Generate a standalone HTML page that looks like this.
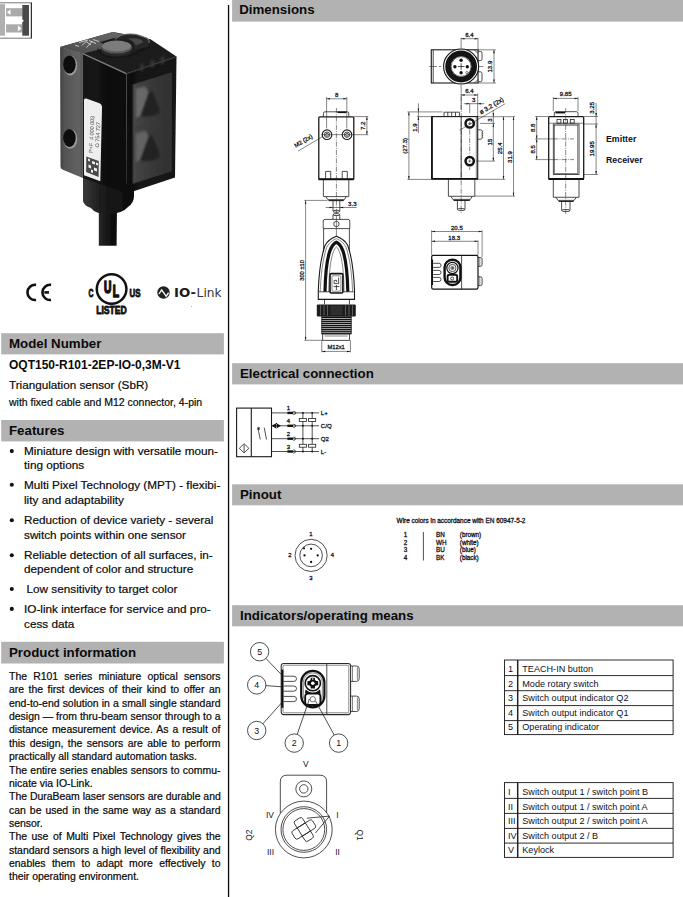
<!DOCTYPE html>
<html><head><meta charset="utf-8"><title>OQT150-R101-2EP-IO-0,3M-V1</title>
<style>
html,body{margin:0;padding:0;background:#fff;}
body{width:683px;height:897px;position:relative;overflow:hidden;font-family:"Liberation Sans",Arial,sans-serif;color:#0a0a0a;}
.abs{position:absolute;}
.hd{position:absolute;z-index:2;height:21px;font-weight:700;font-size:13.3px;line-height:21px;white-space:nowrap;box-sizing:border-box;}
.hl{left:1px;width:223px;padding-left:8px;}
.hr{left:232px;width:451px;padding-left:8px;}
.t{position:absolute;white-space:nowrap;}
.vline{position:absolute;left:228px;top:5px;width:1.5px;height:892px;background:#111;}
.feat{-webkit-text-stroke:0.2px #0a0a0a;position:absolute;left:24px;font-size:11.75px;line-height:14.6px;white-space:nowrap;}
.bul{position:absolute;left:9.6px;font-size:15px;line-height:14.6px;margin-top:-0.3px;}
.pi{-webkit-text-stroke:0.22px #0a0a0a;position:absolute;left:9px;width:211.5px;font-size:10.45px;line-height:13.36px;text-align:justify;}
.pi div{text-align:justify;text-align-last:justify;white-space:nowrap;}
.pi div.l{text-align-last:left;}
table.tb{position:absolute;border-collapse:collapse;font-size:9.7px;}
table.tb td{border:1px solid #333;padding:0 0 0 3px;height:13.4px;line-height:13px;white-space:nowrap;}
</style></head><body>


<!-- LEFT COLUMN -->
<div id="photo"><svg class="abs" style="left:0;top:0" width="228" height="330" viewBox="0 0 228 330">
<defs>
<filter id="bl" x="-5%" y="-5%" width="110%" height="110%"><feGaussianBlur stdDeviation="0.5"/></filter>
<filter id="bl2" x="-30%" y="-30%" width="160%" height="160%"><feGaussianBlur stdDeviation="1.1"/></filter>
<linearGradient id="gStrip" x1="0" y1="0" x2="1" y2="0"><stop offset="0" stop-color="#404040"/><stop offset="0.2" stop-color="#545454"/><stop offset="0.85" stop-color="#626262"/><stop offset="1" stop-color="#505050"/></linearGradient>
<linearGradient id="gFront" x1="0" y1="0" x2="1" y2="0"><stop offset="0" stop-color="#141414"/><stop offset="1" stop-color="#0e0e0e"/></linearGradient>
<linearGradient id="gRight" x1="0" y1="0" x2="1" y2="0"><stop offset="0" stop-color="#101010"/><stop offset="1" stop-color="#181818"/></linearGradient>
<linearGradient id="gWin" x1="0" y1="0" x2="1" y2="0"><stop offset="0" stop-color="#464646"/><stop offset="0.5" stop-color="#383838"/><stop offset="1" stop-color="#303030"/></linearGradient>
<linearGradient id="gCable" x1="0" y1="0" x2="1" y2="0"><stop offset="0" stop-color="#2a2a2a"/><stop offset="0.5" stop-color="#141414"/><stop offset="1" stop-color="#0a0a0a"/></linearGradient>
<linearGradient id="gGland" x1="0" y1="0" x2="1" y2="0"><stop offset="0" stop-color="#3a3a3a"/><stop offset="0.35" stop-color="#1c1c1c"/><stop offset="1" stop-color="#0c0c0c"/></linearGradient>
<linearGradient id="gTopL" x1="0" y1="1" x2="1" y2="0"><stop offset="0" stop-color="#4a4a4a"/><stop offset="1" stop-color="#6a6a6a"/></linearGradient>
</defs>
<g filter="url(#bl)">
<!-- cable -->
<path d="M98.8 245.7 L98.8 205 L117 205 L116.6 245.7 Z" fill="url(#gCable)"/>
<!-- gland -->
<path d="M83 176 L83 201 Q84 206 91 208 Q95 214 108 214 Q122 214 128 207 Q134 203 134 196 L134 186 Z" fill="url(#gGland)"/>
<!-- top face -->
<path d="M60.1 47 L111 32.6 Q113.6 31.9 116 32.4 L150.5 39.3 L176.5 56.5 L126.5 73.5 L82.8 53.5 Z" fill="#1e1e1e"/>
<path d="M60.1 47 L111 32.6 L113.6 32.3 L125 35 L100 42 L108 47 L82.8 53.8 Z" fill="url(#gTopL)"/>
<!-- left strip -->
<path d="M60.1 47 L82.8 53.5 L82.8 178.1 L62.3 169.5 Q60.5 168.6 60.5 166.5 Z" fill="url(#gStrip)"/>
<!-- front face -->
<path d="M82.8 53.5 L126.5 73.5 L126.9 193.5 L82.8 178.1 Z" fill="url(#gFront)"/>
<!-- right face -->
<path d="M126.5 73.5 L176.5 56.5 L175 177.5 L126.9 193.5 Z" fill="url(#gRight)"/>
<!-- highlight edge -->
<path d="M82.8 53.6 L126.3 73.6" stroke="#7a7a7a" stroke-width="1.3" fill="none"/>
<path d="M126.5 74 L176.3 57" stroke="#333" stroke-width="1" fill="none"/>
<!-- window -->
<path d="M133 84.6 L171.3 73 L171.3 171 L133 183.5 Z" fill="url(#gWin)" stroke="#343434" stroke-width="1"/>
<path d="M135.7 88.6 L145.5 86.5 L149 93.5 L141 115.5 L135.7 118 Z" fill="#686868" filter="url(#bl2)"/>
<path d="M135.7 133.5 L145.5 130.5 L149 137 L140.5 160 L135.7 162 Z" fill="#626262" filter="url(#bl2)"/>
<path d="M141 116 L149 93 Q151 90 153.5 93.5 L160 112 Q152 118 141 116 Z" fill="#222" filter="url(#bl2)"/>
<path d="M140.5 160.5 L149 137 Q151 134 153.5 137.5 L160 156 Q152 163 140.5 160.5 Z" fill="#222" filter="url(#bl2)"/>
<path d="M134.5 127.8 L160.6 122.9" stroke="#3a3a3a" stroke-width="1" fill="none"/>
<!-- ridges -->
<path d="M140.5 64.5 L143.5 63.5 L143.5 70.5 L140.5 71.5 Z M151 61 L154 60 L154 67 L151 68 Z M161 57.5 L164 56.5 L164 63.5 L161 64.5 Z" fill="#3a3a3a" filter="url(#bl2)"/>
<!-- top details: scribble markings -->
<g stroke="#d8d8d8" stroke-width="1" fill="none" opacity="0.85">
<path d="M79 42.5 L88 40 M82 45.5 L86 41.5 L91 45 M86.5 47.5 L92.5 41 M89 40.5 L96 43.5 M93 39.5 L99 41.5 M75 45 L79 46.5"/>
</g>
<!-- knob -->
<path d="M98 47 Q98 56 117 57 Q136 56 139 47 L150.5 41.5 L150 47.5 L128 58 L108 58 L97 52 Z" fill="#161616"/>
<ellipse cx="116.8" cy="49.5" rx="16" ry="6.8" fill="#2a2a2a"/>
<ellipse cx="116.6" cy="47.2" rx="15.3" ry="6.3" fill="#5a5a5a"/>
<ellipse cx="116.6" cy="46" rx="14.5" ry="5.4" fill="#7c7c7c"/>
<!-- latch -->
<path d="M115 39.5 Q119 35.5 126 34.3 Q133 33.5 138 35 L146.5 38 Q149.5 39.5 149.3 43 L148.5 46.5 L134 50.5 Q136 45 131 41.5 Q124 38.5 115 39.5 Z" fill="#262626"/>
<path d="M115 39.3 Q119 35.5 126 34.3 Q133 33.5 138 35 L146.5 38 Q149.5 39.5 149.3 43" stroke="#6a6a6a" stroke-width="1.1" fill="none"/>
<path d="M128 38.5 Q135 37.5 141 39.5 L143.5 42 L136 45.5 Q134 41 128 38.5 Z" fill="#4a4a4a"/>
<!-- holes -->
<ellipse cx="70.3" cy="65.6" rx="7" ry="9.8" fill="#9a9a9a"/>
<ellipse cx="69.4" cy="64.6" rx="6.3" ry="9" fill="#0a0a0a"/>
<ellipse cx="70.3" cy="139" rx="7" ry="9.8" fill="#9a9a9a"/>
<ellipse cx="69.4" cy="138" rx="6.3" ry="9" fill="#0a0a0a"/>
<!-- label -->
<path d="M84 100.3 Q84 97.8 86.3 98.6 L99.5 103.3 Q102 104.3 102 106.8 L100.3 181.3 L84 175.2 Z" fill="#eeeeee"/>
<path d="M86.3 156.5 L98.8 161 L98.6 177 L86.1 172 Z" fill="#4a4a4a"/>
<path d="M88 158.5 L90 159.2 L90 161.5 L88 160.8 Z M92 161 L95 162.1 L95 164.5 L92 163.5 Z M88.5 164.5 L91 165.5 L91 168.5 L88.5 167.5 Z M94 167.5 L97 168.5 L97 171.5 L94 170.5 Z M96 162.5 L98 163.3 L98 165.5 L96 164.8 Z M91 169.5 L93 170.3 L93 173 L91 172.3 Z" fill="#eee"/>
<g font-family="Liberation Sans, sans-serif" font-size="5.4" fill="#444">
<text transform="translate(92.5,153) rotate(-87)">P+F&#160; 4 000 003</text>
<text transform="translate(98.5,155) rotate(-87)">&#160;&#160;&#160;&#160; O 754 727</text>
</g>
</g>
</svg>
</div>
<div id="logos"><svg class="abs" style="left:0;top:0" width="228" height="330" viewBox="0 0 228 330">
<!-- top-left icon -->
<g filter="url(#bl)">
<rect x="-2" y="2.8" width="33.4" height="35.4" fill="#fff" stroke="#777" stroke-width="1"/>
<path d="M31.4 2.8 L31.4 38.2" stroke="#333" stroke-width="1.2"/>
<rect x="0" y="4.1" width="5" height="31.6" fill="#b0b0b0"/>
<rect x="6.1" y="8.2" width="16.4" height="8.2" fill="#aaaaaa"/>
<rect x="6.1" y="24.3" width="16.4" height="8.2" fill="#aaaaaa"/>
<rect x="22.3" y="5" width="6.7" height="30.7" fill="#4a484c"/>
<path d="M7 12.2 L10.5 9.4 L10.5 15 Z M21.4 28.4 L17.9 25.6 L17.9 31.2 Z M22 19.5 L24 20.8 L22 22.2 Z" fill="#fff"/>
</g>
<!-- CE -->
<g fill="none" stroke="#111" stroke-width="2.6">
<path d="M36.06 284.87 A7.6 7.6 0 1 0 36.06 299.93"/>
<path d="M51.06 284.87 A7.6 7.6 0 1 0 51.06 299.93"/>
<path d="M44.3 292.4 L49 292.4"/>
</g>
<!-- UL -->
<circle cx="111.6" cy="289" r="14.8" fill="none" stroke="#111" stroke-width="2.5"/>
<g font-family="Liberation Sans, sans-serif" font-weight="700" fill="#111" stroke="#111" stroke-width="0.8" stroke-linejoin="round">
<text x="103.9" y="292.8" font-size="17.2" textLength="7.4" lengthAdjust="spacingAndGlyphs" stroke-width="1.7">U</text>
<text x="112.8" y="296.7" font-size="17" textLength="6.3" lengthAdjust="spacingAndGlyphs" stroke-width="1.7">L</text>
<text x="88.5" y="296.7" font-size="10" textLength="5" lengthAdjust="spacingAndGlyphs">C</text>
<text x="129.5" y="296.7" font-size="10" textLength="11" lengthAdjust="spacingAndGlyphs">US</text>
<text x="96.2" y="314.4" font-size="10.4" textLength="30.6" lengthAdjust="spacingAndGlyphs">LISTED</text>
</g>
<!-- IO-Link -->
<circle cx="163.5" cy="292.5" r="6.2" fill="#222"/>
<path d="M159 294 L161.6 290 L164 293.2 L166.2 296.4 L168.6 292.6" fill="none" stroke="#fff" stroke-width="1.3"/>
<text x="174" y="296.8" font-family="DejaVu Sans, sans-serif" font-weight="700" font-size="11.4" fill="#1a1a1a" textLength="22" lengthAdjust="spacingAndGlyphs">IO-</text>
<text x="196.6" y="296.8" font-family="DejaVu Sans, sans-serif" font-size="11.6" fill="#333" textLength="25" lengthAdjust="spacingAndGlyphs">Link</text>
<rect x="191" y="306.2" width="0.8" height="0.8" fill="#888"/>
</svg>
</div>

<div class="hd hl" style="top:333.2px">Model Number</div>
<div class="t" style="left:9px;top:357.6px;font-size:12px;font-weight:700;line-height:14px">OQT150-R101-2EP-IO-0,3M-V1</div>
<div class="t" style="left:9px;top:378px;font-size:11.7px;line-height:14px;-webkit-text-stroke:0.2px #0a0a0a">Triangulation sensor (SbR)</div>
<div class="t" style="left:9px;top:394.7px;font-size:10.5px;line-height:14px;-webkit-text-stroke:0.2px #0a0a0a">with fixed cable and M12 connector, 4-pin</div>

<div class="hd hl" style="top:420.2px">Features</div>
<div class="feat" style="top:443.5px;left:24px">Miniature design with versatile moun-</div>
<div class="feat" style="top:458.1px;left:24px">ting options</div>
<div class="feat" style="top:478.2px;left:24px">Multi Pixel Technology (MPT) - flexibi-</div>
<div class="feat" style="top:492.8px;left:24px">lity and adaptability</div>
<div class="feat" style="top:512.6px;left:24px">Reduction of device variety - several</div>
<div class="feat" style="top:528.1px;left:24px">switch points within one sensor</div>
<div class="feat" style="top:547.6px;left:24px">Reliable detection of all surfaces, in-</div>
<div class="feat" style="top:562.4px;left:24px">dependent of color and structure</div>
<div class="feat" style="top:582px;left:26.5px">Low sensitivity to target color</div>
<div class="feat" style="top:602px;left:24px">IO-link interface for service and pro-</div>
<div class="feat" style="top:616.6px;left:24px">cess data</div>

<div class="hd hl" style="top:642.2px">Product information</div>
<div class="pi" style="top:670px">
<div>The R101 series miniature optical sensors</div>
<div>are the first devices of their kind to offer an</div>
<div>end-to-end solution in a small single standard</div>
<div>design — from thru-beam sensor through to a</div>
<div>distance measurement device. As a result of</div>
<div>this design, the sensors are able to perform</div>
<div class="l">practically all standard automation tasks.</div>
<div>The entire series enables sensors to commu-</div>
<div class="l">nicate via IO-Link.</div>
<div>The DuraBeam laser sensors are durable and</div>
<div>can be used in the same way as a standard</div>
<div class="l">sensor.</div>
<div>The use of Multi Pixel Technology gives the</div>
<div>standard sensors a high level of flexibility and</div>
<div>enables them to adapt more effectively to</div>
<div class="l">their operating environment.</div>
</div>

<!-- RIGHT COLUMN -->
<div id="draw"><svg class="abs" style="left:0;top:0" width="683" height="897" viewBox="0 0 683 897">
<style>
.n{stroke:#222;stroke-width:0.8;fill:none}
.m{stroke:#1a1a1a;stroke-width:1.1;fill:none}
.k{stroke:#1a1a1a;stroke-width:1.3;fill:none}
.t{stroke:#222;stroke-width:0.55;fill:none}
.c{stroke:#222;stroke-width:0.55;fill:none;stroke-dasharray:5 1.2 1 1.2}
.f{fill:#111;stroke:none}
.w{fill:#fff;stroke:#222;stroke-width:0.8}
.dt{font-family:"Liberation Sans",sans-serif;fill:#10101e;stroke:#10101e;stroke-width:0.28}
.tbl{stroke:#222;stroke-width:0.95;fill:none}
.lb{font-family:"Liberation Sans",sans-serif;fill:#10101e;}
</style>
<rect x="232.1" y="0" width="451" height="21.6" fill="#b2b2b2"/>
<rect x="232.1" y="363.2" width="451" height="21.2" fill="#b2b2b2"/>
<rect x="232.1" y="484.3" width="451" height="21" fill="#b2b2b2"/>
<rect x="232.1" y="605.2" width="451" height="21.1" fill="#b2b2b2"/>
<rect x="1.2" y="333.2" width="222.7" height="21.2" fill="#b2b2b2"/>
<rect x="1.2" y="420" width="222.7" height="21.4" fill="#b2b2b2"/>
<rect x="1.2" y="641.8" width="222.7" height="21.7" fill="#b2b2b2"/>
<circle class="f" cx="11.8" cy="451.1" r="2.05"/>
<circle class="f" cx="11.8" cy="484.7" r="2.05"/>
<circle class="f" cx="11.8" cy="520.3" r="2.05"/>
<circle class="f" cx="11.8" cy="555.3" r="2.05"/>
<circle class="f" cx="11.8" cy="589" r="2.05"/>
<circle class="f" cx="11.8" cy="608.9" r="2.05"/>
<path d="M228.55 5L228.55 897" stroke="#0a0a0a" stroke-width="1.3"/>
<path class="c" d="M336.4 108.0L336.4 214.0" />
<path class="n" d="M323.4 116.6L323.4 113.3Q323.4 111.8 325 111.8L347.2 111.8Q348.8 111.8 348.8 113.3L348.8 116.6"/>
<path d="M337.5 112.3L346.5 112.3" stroke="#111" stroke-width="1.6"/>
<rect class="k" x="318.8" y="116.8" width="35" height="62.6" rx="1"/>
<path d="M318.6 179.3L353.8 179.3" stroke="#111" stroke-width="2"/>
<path class="t" d="M326.6 97.0L326.6 128.5" />
<path class="t" d="M346.8 97.0L346.8 128.5" />
<path class="t" d="M326.6 98.8L346.8 98.8" />
<path class="f" d="M326.60 98.80L330.00 98.05L330.00 99.55Z"/>
<path class="f" d="M346.80 98.80L343.40 99.55L343.40 98.05Z"/>
<text class="dt" x="336.6" y="96.8" font-size="6.05" text-anchor="middle" >8</text>
<circle class="m" cx="327" cy="134.7" r="4.8"/>
<circle class="n" cx="327" cy="134.7" r="2.7"/>
<path class="n" d="M325.2 134.7L327 132.89999999999998L328.8 134.7L327 136.5Z"/>
<circle class="m" cx="347" cy="134.7" r="4.8"/>
<circle class="n" cx="347" cy="134.7" r="2.7"/>
<path class="n" d="M345.2 134.7L347 132.89999999999998L348.8 134.7L347 136.5Z"/>
<path class="t" d="M321.0 134.7L368.3 134.7" />
<path class="t" d="M353.8 116.6L368.3 116.6" />
<path class="t" d="M366.9 116.6L366.9 134.7" />
<path class="f" d="M366.90 116.60L367.65 120.00L366.15 120.00Z"/>
<path class="f" d="M366.90 134.70L366.15 131.30L367.65 131.30Z"/>
<text class="dt" x="364.6" y="125.8" font-size="6.05" text-anchor="middle" transform="rotate(-90 364.6 125.8)" >7.2</text>
<path class="t" d="M323.0 136.3L298.0 151.2" />
<text class="dt" x="304.3" y="142.6" font-size="5.9" text-anchor="middle" transform="rotate(-31 304.3 142.6)" >M2 (2x)</text>
<path class="n" d="M325.6 179L325.6 171.4L330.70000000000005 171.4L330.70000000000005 179"/>
<path class="n" d="M342.2 179L342.2 171.4L347.3 171.4L347.3 179"/>
<path class="n" d="M323.4 179.5L323.4 196.6L348.8 196.6L348.8 179.5"/>
<path class="n" d="M326 196.6L327.8 199.6L344.4 199.6L346.2 196.6"/>
<path class="m" d="M328.5 200.6L343.8 200.6"/>
<path class="n" d="M333 201L333 211.2M339.8 201L339.8 211.2"/>
<ellipse class="n" cx="336.4" cy="211.3" rx="3.4" ry="1"/>
<path class="t" d="M325.6 207.5L356.7 207.5" />
<path class="f" d="M333.00 207.50L329.60 208.25L329.60 206.75Z"/>
<path class="f" d="M339.80 207.50L343.20 206.75L343.20 208.25Z"/>
<text class="dt" x="352.3" y="206.2" font-size="6.05" text-anchor="middle" >3.3</text>
<path class="t" d="M304.3 200.4L327.5 200.4" />
<path class="t" d="M304.3 340.3L322.7 340.3" />
<path class="t" d="M305.6 200.4L305.6 340.3" />
<path class="f" d="M305.60 200.40L306.35 203.80L304.85 203.80Z"/>
<path class="f" d="M305.60 340.30L304.85 336.90L306.35 336.90Z"/>
<text class="dt" x="303.9" y="270.4" font-size="5.75" text-anchor="middle" transform="rotate(-90 303.9 270.4)" >300 ±10</text>
<ellipse class="n" cx="336.4" cy="214.6" rx="3.4" ry="1"/>
<path class="n" d="M333 214.6L333 219.4M339.8 214.6L339.8 219.4"/>
<path class="t" d="M336.4 215.0L336.4 236.0" />
<path class="n" d="M323.2 228.6L323.2 221Q323.2 219.4 324.8 219.4L348 219.4Q349.8 219.4 349.8 221L349.8 228.6Z"/>
<circle class="n" cx="336.4" cy="224" r="2.7"/>
<path class="n" d="M323.6 228.6L323.6 252M349.4 228.6L349.4 252"/>
<path class="m" d="M318.3 299.4L318.3 290C318.9 276 320.6 258 325 245.5C327.6 240.4 332.6 237.6 336.4 236.2C340.2 237.6 345.2 240.4 347.8 245.5C352.2 258 353.9 276 354.5 290L354.5 299.4Z"/>
<path class="t" d="M320.2 291.6C320.8 277 322.4 260 326.6 247.6C329 242.6 333 239.9 336.4 238.7C339.8 239.9 343.8 242.6 346.2 247.6C350.4 260 352.0 277 352.6 291.6"/>
<path d="M325 291.8C325.3 276 326.6 260 330 250.6C331.8 246 334.2 243.3 336.4 242.3C338.6 243.3 341.0 246 342.8 250.6C346.2 260 347.5 276 347.8 291.8" stroke="#111" stroke-width="3.2" fill="none" stroke-linejoin="miter"/>
<path class="t" d="M328.7 291.8C328.9 277 330 262.5 332.6 254C333.8 250 335.2 247.6 336.4 246.9C337.6 247.6 339.0 250 340.2 254C342.8 262.5 343.9 277 344.1 291.8"/>
<path class="n" d="M319.0 291.8L353.8 291.8" />
<rect x="330" y="273.6" width="12.9" height="19.4" rx="1.6" fill="#fff" stroke="#111" stroke-width="1.6"/>
<rect class="t" x="332" y="275.8" width="8.9" height="15.4" rx="0.8"/>
<path class="n" d="M338.6 277.5L338.6 283.6L334.2 283.6L334.2 280.4L336.6 280.4L336.6 282M333.6 286.6L339.4 286.6M336.4 285L336.4 290"/>
<path class="n" d="M324.5 299.6L324.5 304.4M349.4 299.6L349.4 304.4"/>
<rect x="316.8" y="304.4" width="39" height="12" rx="1.2" fill="#1c1c1c"/>
<path d="M320.5 305.2L320.5 315.6" stroke="#8a8a8a" stroke-width="0.6"/>
<path d="M324 305.2L324 315.6" stroke="#8a8a8a" stroke-width="0.6"/>
<path d="M327.5 305.2L327.5 315.6" stroke="#8a8a8a" stroke-width="0.6"/>
<path d="M345.5 305.2L345.5 315.6" stroke="#8a8a8a" stroke-width="0.6"/>
<path d="M349 305.2L349 315.6" stroke="#8a8a8a" stroke-width="0.6"/>
<path d="M352.5 305.2L352.5 315.6" stroke="#8a8a8a" stroke-width="0.6"/>
<rect x="330.5" y="305.6" width="12" height="9.6" fill="#2e2e2e"/>
<rect x="321.8" y="316.4" width="29.4" height="17.5" fill="#fff" stroke="#222" stroke-width="0.8"/>
<path d="M321.6 317.6L351.4 317.6" stroke="#111" stroke-width="1.4"/>
<path d="M321.6 319.6L351.4 319.6" stroke="#111" stroke-width="1.4"/>
<path d="M321.6 321.5L351.4 321.5" stroke="#111" stroke-width="1.4"/>
<path d="M321.6 323.4L351.4 323.4" stroke="#111" stroke-width="1.4"/>
<path d="M321.6 325.4L351.4 325.4" stroke="#111" stroke-width="1.4"/>
<path d="M321.6 327.3L351.4 327.3" stroke="#111" stroke-width="1.4"/>
<path d="M321.6 329.3L351.4 329.3" stroke="#111" stroke-width="1.4"/>
<path d="M321.6 331.2L351.4 331.2" stroke="#111" stroke-width="1.4"/>
<path d="M321.6 333.2L351.4 333.2" stroke="#111" stroke-width="1.4"/>
<rect class="n" x="322.7" y="333.9" width="26.7" height="6.4"/>
<path class="t" d="M324.5 336L347.6 336"/>
<path class="t" d="M321.8 340.3L321.8 352.4" />
<path class="t" d="M350.4 340.3L350.4 352.4" />
<path class="t" d="M321.8 351.4L350.4 351.4" />
<path class="f" d="M321.80 351.40L325.20 350.65L325.20 352.15Z"/>
<path class="f" d="M350.40 351.40L347.00 352.15L347.00 350.65Z"/>
<text class="dt" x="336.1" y="349.3" font-size="5.75" text-anchor="middle" >M12x1</text>
<rect class="m" x="431.3" y="49.8" width="46.7" height="33.2"/>
<path class="n" d="M433.2 50L433.2 83"/>
<path class="n" d="M478 51.4L480.3 51.4Q482 51.4 482 53.0L482 59.0Q482 60.6 480.3 60.6L478 60.6"/>
<path class="n" d="M478 71.8L480.3 71.8Q482 71.8 482 73.39999999999999L482 80.10000000000001Q482 81.7 480.3 81.7L478 81.7"/>
<path class="n" d="M474.5 50L478 53.5M474.5 83L478 79.5"/>
<circle cx="461.1" cy="66.5" r="17.5" fill="#fff" stroke="#111" stroke-width="1.1"/>
<circle cx="461.1" cy="66.5" r="13.1" fill="none" stroke="#141414" stroke-width="5.6"/>
<circle cx="461.1" cy="66.5" r="9.9" fill="#fff" stroke="#111" stroke-width="0.6"/>
<circle class="f" cx="461.1" cy="60.3" r="1.7"/>
<circle class="f" cx="454.90000000000003" cy="66.8" r="1.7"/>
<circle class="f" cx="467.3" cy="66.8" r="1.7"/>
<circle class="f" cx="461.1" cy="72.7" r="1.7"/>
<circle class="t" cx="466.8" cy="72.6" r="1.1"/>
<path class="n" d="M457.8 66.5L464.4 66.5M461.1 63.2L461.1 69.8"/>
<path class="t" d="M429.2 66.5L437.0 66.5" />
<path class="t" d="M439.0 66.5L441.0 66.5" />
<path class="t" d="M479.0 66.5L483.3 66.5" />
<path class="t" d="M461.1 85.0L461.1 88.0" />
<path class="t" d="M461.1 37.8L461.1 48.5" />
<path class="t" d="M478.0 37.8L478.0 49.8" />
<path class="t" d="M461.1 38.7L478.0 38.7" />
<path class="f" d="M461.10 38.70L464.50 37.95L464.50 39.45Z"/>
<path class="f" d="M478.00 38.70L474.60 39.45L474.60 37.95Z"/>
<text class="dt" x="469.4" y="37.0" font-size="6.05" text-anchor="middle" >6.4</text>
<path class="t" d="M478.0 49.8L495.8 49.8" />
<path class="t" d="M478.0 83.0L495.8 83.0" />
<path class="t" d="M494.0 49.8L494.0 83.0" />
<path class="f" d="M494.00 49.80L494.75 53.20L493.25 53.20Z"/>
<path class="f" d="M494.00 83.00L493.25 79.60L494.75 79.60Z"/>
<text class="dt" x="491.7" y="66.6" font-size="6.05" text-anchor="middle" transform="rotate(-90 491.7 66.6)" >13.9</text>
<path class="c" d="M461.2 88.0L461.2 214.0" />
<rect class="m" x="431.7" y="116.6" width="46" height="62.2"/>
<path d="M432 116.6L432 178.8" stroke="#111" stroke-width="1.7"/>
<path d="M431.5 178.9L477.8 178.9" stroke="#111" stroke-width="1.7"/>
<path class="n" d="M461.2 116.6L461.2 178.8" />
<path class="t" d="M476.3 116.6L476.3 178.8" />
<path class="n" d="M444 116.5L444 112.2L459.4 112.2L459.4 116.5M447.8 112.2L447.8 116.5M451.7 112.2L451.7 116.5M455.5 112.2L455.5 116.5"/>
<path class="t" d="M407.4 111.9L442.6 111.9" />
<path class="t" d="M407.4 179.4L431.6 179.4" />
<path class="t" d="M408.9 111.9L408.9 179.4" />
<path class="f" d="M408.90 111.90L409.65 115.30L408.15 115.30Z"/>
<path class="f" d="M408.90 179.40L408.15 176.00L409.65 176.00Z"/>
<text class="dt" x="407.2" y="145.8" font-size="6.05" text-anchor="middle" transform="rotate(-90 407.2 145.8)" >(27.3)</text>
<path class="t" d="M417.0 116.6L431.6 116.6" />
<path class="t" d="M418.4 103.3L418.4 133.3" />
<path class="f" d="M418.40 111.90L417.65 108.50L419.15 108.50Z"/>
<path class="f" d="M418.40 116.60L419.15 120.00L417.65 120.00Z"/>
<text class="dt" x="416.7" y="127.5" font-size="6.05" text-anchor="middle" transform="rotate(-90 416.7 127.5)" >1.9</text>
<path class="t" d="M461.2 93.5L461.2 110.0" />
<path class="t" d="M477.7 93.5L477.7 116.6" />
<path class="t" d="M461.2 95.0L477.7 95.0" />
<path class="f" d="M461.20 95.00L464.60 94.25L464.60 95.75Z"/>
<path class="f" d="M477.70 95.00L474.30 95.75L474.30 94.25Z"/>
<text class="dt" x="469.4" y="93.2" font-size="6.05" text-anchor="middle" >6.4</text>
<path class="t" d="M463.8 103.7L484.3 103.7" />
<path class="f" d="M469.70 103.70L466.30 104.45L466.30 102.95Z"/>
<path class="f" d="M477.70 103.70L481.10 102.95L481.10 104.45Z"/>
<text class="dt" x="473.8" y="101.8" font-size="6.05" text-anchor="middle" >3</text>
<path class="t" d="M469.7 103.7L469.7 113.0" />
<circle cx="469.7" cy="123.4" r="4.15" fill="#fff" stroke="#111" stroke-width="2.5"/>
<path class="t" d="M468.1 123.4L471.3 123.4M469.7 121.80000000000001L469.7 125.0"/>
<circle cx="469.7" cy="161.1" r="4.15" fill="#fff" stroke="#111" stroke-width="2.5"/>
<path class="t" d="M468.1 161.1L471.3 161.1M469.7 159.5L469.7 162.7"/>
<path class="c" d="M469.7 129.5L469.7 155.0" />
<path class="t" d="M469.7 167.0L469.7 170.0" />
<path class="t" d="M459.6 130.2L505.2 103.7" />
<text class="dt" x="492.6" y="107.6" font-size="6.3" text-anchor="middle" transform="rotate(-31 492.6 107.6)" >ø 3.2 (2x)</text>
<path class="n" d="M478 129.8L480.6 129.8Q482.2 129.8 482.2 131.4L482.2 137.6Q482.2 139.2 480.6 139.2L478 139.2"/>
<path class="t" d="M482.2 131.5L483.2 131.5M482.2 133.5L483.2 133.5M482.2 135.5L483.2 135.5M482.2 137.5L483.2 137.5"/>
<path class="t" d="M478.0 116.7L515.0 116.7" />
<path class="t" d="M480.0 123.4L495.0 123.4" />
<path class="t" d="M476.0 161.1L495.0 161.1" />
<path class="t" d="M475.9 179.3L505.2 179.3" />
<path class="t" d="M474.8 196.1L515.0 196.1" />
<path class="t" d="M493.3 110.0L493.3 161.1" />
<path class="f" d="M493.30 116.70L492.55 113.30L494.05 113.30Z"/>
<path class="f" d="M493.30 123.40L494.05 126.80L492.55 126.80Z"/>
<path class="f" d="M493.30 161.10L492.55 157.70L494.05 157.70Z"/>
<text class="dt" x="491.6" y="120.1" font-size="6.05" text-anchor="middle" transform="rotate(-90 491.6 120.1)" >3</text>
<text class="dt" x="491.6" y="142.1" font-size="6.05" text-anchor="middle" transform="rotate(-90 491.6 142.1)" >15</text>
<path class="t" d="M503.5 116.7L503.5 179.3" />
<path class="f" d="M503.50 116.70L504.25 120.10L502.75 120.10Z"/>
<path class="f" d="M503.50 179.30L502.75 175.90L504.25 175.90Z"/>
<text class="dt" x="501.6" y="148.3" font-size="6.05" text-anchor="middle" transform="rotate(-90 501.6 148.3)" >25.4</text>
<path class="t" d="M513.5 116.7L513.5 196.1" />
<path class="f" d="M513.50 116.70L514.25 120.10L512.75 120.10Z"/>
<path class="f" d="M513.50 196.10L512.75 192.70L514.25 192.70Z"/>
<text class="dt" x="511.6" y="157.0" font-size="6.05" text-anchor="middle" transform="rotate(-90 511.6 157.0)" >31.9</text>
<path class="n" d="M448.4 178.8L448.4 196.3L474.8 196.3L474.8 178.8"/>
<path class="n" d="M451 196.3L452.8 199.4L470.4 199.4L472.2 196.3"/>
<path class="m" d="M453.5 200.4L469.8 200.4"/>
<path class="n" d="M457.4 200.8L457.4 209.4M465 200.8L465 209.4"/>
<ellipse class="n" cx="461.2" cy="209.5" rx="3.8" ry="1"/>
<path class="c" d="M565.7 108.0L565.7 214.0" />
<rect class="k" x="548.7" y="116.6" width="35" height="62.5" rx="1"/>
<path d="M548.5 179L583.9 179" stroke="#111" stroke-width="2"/>
<rect class="n" x="553.3" y="124" width="25.7" height="50.5"/>
<rect class="t" x="554.5" y="125.2" width="23.3" height="48.1"/>
<path class="t" d="M549 123.2L583.4 123.2"/>
<rect class="n" x="557" y="119.4" width="3.9" height="3.7"/>
<rect class="n" x="563.5" y="119.4" width="3.9" height="3.7"/>
<rect class="n" x="570.3" y="119.4" width="3.9" height="3.7"/>
<path class="n" d="M554.3 116.4L554.3 113.2Q554.3 111.7 555.8 111.7L576.5 111.7Q578 111.7 578 113.2L578 116.4"/>
<path d="M555.5 112.6L565 112.6" stroke="#111" stroke-width="1.7"/>
<path class="t" d="M553.3 97.0L553.3 111.0" />
<path class="t" d="M578.0 97.0L578.0 111.0" />
<path class="t" d="M553.3 98.4L578.0 98.4" />
<path class="f" d="M553.30 98.40L556.70 97.65L556.70 99.15Z"/>
<path class="f" d="M578.00 98.40L574.60 99.15L574.60 97.65Z"/>
<text class="dt" x="565.7" y="96.4" font-size="6.05" text-anchor="middle" >9.85</text>
<path class="t" d="M583.8 116.5L598.0 116.5" />
<path class="t" d="M583.8 124.0L598.0 124.0" />
<path class="t" d="M583.8 174.5L598.0 174.5" />
<path class="t" d="M596.1 103.0L596.1 174.5" />
<path class="f" d="M596.10 116.50L595.35 113.10L596.85 113.10Z"/>
<path class="f" d="M596.10 124.00L596.85 127.40L595.35 127.40Z"/>
<path class="f" d="M596.10 174.50L595.35 171.10L596.85 171.10Z"/>
<text class="dt" x="594.2" y="107.8" font-size="6.05" text-anchor="middle" transform="rotate(-90 594.2 107.8)" >3.25</text>
<text class="dt" x="594.2" y="148.8" font-size="6.05" text-anchor="middle" transform="rotate(-90 594.2 148.8)" >19.95</text>
<path class="t" d="M535.2 116.5L548.5 116.5" />
<path class="t" d="M535.2 138.9L553.3 138.9" />
<path class="t" d="M535.2 159.6L553.3 159.6" />
<path class="c" d="M553.3 138.9L574.0 138.9" />
<path class="c" d="M553.3 159.6L574.0 159.6" />
<path class="t" d="M536.7 116.5L536.7 159.6" />
<path class="f" d="M536.70 116.50L537.45 119.90L535.95 119.90Z"/>
<path class="f" d="M536.70 138.90L535.95 135.50L537.45 135.50Z"/>
<path class="f" d="M536.70 138.90L537.45 142.30L535.95 142.30Z"/>
<path class="f" d="M536.70 159.60L535.95 156.20L537.45 156.20Z"/>
<text class="dt" x="534.6" y="127.8" font-size="6.05" text-anchor="middle" transform="rotate(-90 534.6 127.8)" >8.8</text>
<text class="dt" x="534.6" y="149.3" font-size="6.05" text-anchor="middle" transform="rotate(-90 534.6 149.3)" >8.5</text>
<path class="n" d="M553.3 179.2L553.3 197.3L579 197.3L579 179.2"/>
<path class="n" d="M556 197.3L558 200.4L574.2 200.4L576.2 197.3"/>
<path class="m" d="M558.6 201.4L573.6 201.4"/>
<path class="n" d="M561.6 202L561.6 210.4M570 202L570 210.4"/>
<ellipse class="n" cx="565.8" cy="210.5" rx="4.2" ry="1"/>
<text class="lb" x="606" y="141.8" font-size="8.8" font-weight="700">Emitter</text>
<text class="lb" x="606" y="162.8" font-size="8.8" font-weight="700">Receiver</text>
<rect x="431.7" y="255.3" width="46.3" height="33.8" rx="1.6" fill="none" stroke="#111" stroke-width="1.2"/>
<path d="M432.3 259.5L432.3 285.0" stroke="#111" stroke-width="1.5"/>
<path class="n" d="M461.6 255.3L461.6 289.1"/>
<path class="n" d="M433.2 263.3L439.2 263.3Q441.0 263.3 441.0 265.4Q441.0 267.4 439.2 267.4L433.2 267.4"/>
<path class="n" d="M433.2 270.4L439.2 270.4Q441.0 270.4 441.0 272.4Q441.0 274.5 439.2 274.5L433.2 274.5"/>
<path class="n" d="M433.2 277.4L439.2 277.4Q441.0 277.4 441.0 279.4Q441.0 281.5 439.2 281.5L433.2 281.5"/>
<rect x="444.6" y="259.8" width="15.8" height="25.2" rx="7.6" fill="#fff" stroke="#111" stroke-width="2.4"/>
<circle cx="452.4" cy="268.0" r="5.6" fill="none" stroke="#111" stroke-width="1.2"/>
<circle class="n" cx="452.4" cy="268.0" r="3.6"/>
<circle class="n" cx="452.4" cy="268.0" r="1.5"/>
<circle class="f" cx="452.4" cy="268.0" r="0.7"/>
<rect x="447.6" y="274.8" width="9.6" height="7.0" rx="1.8" fill="#fff" stroke="#111" stroke-width="1.9"/>
<circle class="n" cx="452.2" cy="278.5" r="1.5"/>
<path class="n" d="M478.0 257.5L480.5 257.5Q482.1 257.5 482.1 259.1L482.1 264.7Q482.1 266.3 480.5 266.3L478.0 266.3"/>
<path class="t" d="M479.8 257.5L479.8 266.3"/>
<path class="n" d="M478.0 276.8L480.5 276.8Q482.1 276.8 482.1 278.4L482.1 284.0Q482.1 285.6 480.5 285.6L478.0 285.6"/>
<path class="t" d="M479.8 276.8L479.8 285.6"/>
<path class="t" d="M431.6 230.3L431.6 255.0" />
<path class="t" d="M482.1 230.3L482.1 257.0" />
<path class="t" d="M478.0 240.3L478.0 255.0" />
<path class="t" d="M431.6 231.5L482.1 231.5" />
<path class="f" d="M431.60 231.50L435.00 230.75L435.00 232.25Z"/>
<path class="f" d="M482.10 231.50L478.70 232.25L478.70 230.75Z"/>
<text class="dt" x="456.9" y="229.9" font-size="6.05" text-anchor="middle" >20.5</text>
<path class="t" d="M431.6 241.3L478.0 241.3" />
<path class="f" d="M431.60 241.30L435.00 240.55L435.00 242.05Z"/>
<path class="f" d="M478.00 241.30L474.60 242.05L474.60 240.55Z"/>
<text class="dt" x="454.2" y="239.7" font-size="6.05" text-anchor="middle" >18.3</text>
<rect class="m" x="236.6" y="408.1" width="34.9" height="48.6"/>
<path class="m" d="M251.3 408.1L251.3 456.7" />
<path class="n" d="M244.1 443.7L248.9 448.3L244.1 452.9L239.3 448.3ZM244.1 444.6L244.1 452"/>
<path class="n" d="M258.6 431.5L260.3 439.4M264.2 427.6L266.5 439.4M257.2 428.6L259.8 428.6M258.5 427.2L258.5 431.5M257.4 427.4L259.6 429.8M259.6 427.4L257.4 429.8"/>
<path class="n" d="M271.5 412.9L319.0 412.9" />
<path d="M287.4 412.9L293 412.9" stroke="#111" stroke-width="2.4"/>
<path class="n" d="M293.2 411.29999999999995Q295.8 411.4 295.8 412.9Q295.8 414.4 293.2 414.5" fill="#fff"/>
<text class="dt" x="288.3" y="410.3" font-size="6" text-anchor="middle">1</text>
<text class="dt" x="320.8" y="414.9" font-size="6.1">L+</text>
<circle class="f" cx="302.9" cy="412.9" r="0.95"/>
<circle class="f" cx="312.2" cy="412.9" r="0.95"/>
<path class="n" d="M271.5 425.8L319.0 425.8" />
<path d="M287.4 425.8L293 425.8" stroke="#111" stroke-width="2.4"/>
<path class="n" d="M293.2 424.2Q295.8 424.3 295.8 425.8Q295.8 427.3 293.2 427.40000000000003" fill="#fff"/>
<text class="dt" x="288.3" y="423.2" font-size="6" text-anchor="middle">4</text>
<text class="dt" x="320.8" y="427.8" font-size="6.1">C/Q</text>
<circle class="f" cx="302.9" cy="425.8" r="0.95"/>
<circle class="f" cx="312.2" cy="425.8" r="0.95"/>
<path class="n" d="M271.5 438.7L319.0 438.7" />
<path d="M287.4 438.7L293 438.7" stroke="#111" stroke-width="2.4"/>
<path class="n" d="M293.2 437.09999999999997Q295.8 437.2 295.8 438.7Q295.8 440.2 293.2 440.3" fill="#fff"/>
<text class="dt" x="288.3" y="436.1" font-size="6" text-anchor="middle">2</text>
<text class="dt" x="320.8" y="440.7" font-size="6.1">Q2</text>
<circle class="f" cx="302.9" cy="438.7" r="0.95"/>
<circle class="f" cx="312.2" cy="438.7" r="0.95"/>
<path class="n" d="M271.5 451.5L319.0 451.5" />
<path d="M287.4 451.5L293 451.5" stroke="#111" stroke-width="2.4"/>
<path class="n" d="M293.2 449.9Q295.8 450.0 295.8 451.5Q295.8 453.0 293.2 453.1" fill="#fff"/>
<text class="dt" x="288.3" y="448.9" font-size="6" text-anchor="middle">3</text>
<text class="dt" x="320.8" y="453.5" font-size="6.1">L-</text>
<circle class="f" cx="302.9" cy="451.5" r="0.95"/>
<circle class="f" cx="312.2" cy="451.5" r="0.95"/>
<path class="n" d="M302.9 412.9L302.9 451.5" />
<path class="n" d="M312.2 412.9L312.2 451.5" />
<rect class="w" x="299.3" y="418.5" width="7.1" height="2.9"/>
<rect class="w" x="299.3" y="444.3" width="7.1" height="2.9"/>
<rect class="w" x="308.6" y="418.5" width="7.1" height="2.9"/>
<rect class="w" x="308.6" y="444.3" width="7.1" height="2.9"/>
<path class="f" d="M271.6 425.8L276.6 422.9L276.6 428.7ZM281 425.8L276 422.9L276 428.7Z"/>
<circle class="n" cx="311.1" cy="555.4" r="16.1"/>
<circle class="n" cx="311.1" cy="555.4" r="11.3"/>
<circle class="f" cx="311.1" cy="548.8" r="1.15"/>
<circle class="f" cx="304.5" cy="555.4" r="1.15"/>
<circle class="f" cx="317.70000000000005" cy="555.4" r="1.15"/>
<circle class="f" cx="311.1" cy="562.0" r="1.15"/>
<circle class="f" cx="304" cy="548.3" r="1.1"/>
<text class="dt" x="310.9" y="535.9" font-size="5.9" text-anchor="middle" >1</text>
<text class="dt" x="289.9" y="556.9" font-size="5.9" text-anchor="middle" >2</text>
<text class="dt" x="332.4" y="556.9" font-size="5.9" text-anchor="middle" >4</text>
<text class="dt" x="310.9" y="579.7" font-size="5.9" text-anchor="middle" >3</text>
<text class="dt" x="396.6" y="522.8" font-size="6.43">Wire colors in accordance with EN 60947-5-2</text>
<path class="n" d="M423.4 532.0L423.4 560.5" />
<text class="dt" x="403.7" y="536.8" font-size="6.3">1</text>
<text class="dt" x="436.1" y="536.8" font-size="6.3">BN</text>
<text class="dt" x="459.8" y="536.8" font-size="6.3">(brown)</text>
<text class="dt" x="403.7" y="544.9" font-size="6.3">2</text>
<text class="dt" x="436.1" y="544.9" font-size="6.3">WH</text>
<text class="dt" x="459.8" y="544.9" font-size="6.3">(white)</text>
<text class="dt" x="403.7" y="552.2" font-size="6.3">3</text>
<text class="dt" x="436.1" y="552.2" font-size="6.3">BU</text>
<text class="dt" x="459.8" y="552.2" font-size="6.3">(blue)</text>
<text class="dt" x="403.7" y="559.9" font-size="6.3">4</text>
<text class="dt" x="436.1" y="559.9" font-size="6.3">BK</text>
<text class="dt" x="459.8" y="559.9" font-size="6.3">(black)</text>
<rect x="281.2" y="663.4" width="69.4" height="51.2" rx="2.6" fill="none" stroke="#2a2a2a" stroke-width="1.05"/>
<rect x="283" y="665.2" width="65.8" height="47.6" rx="1.6" class="t"/>
<path d="M282.3 669.7L282.3 707.8" stroke="#111" stroke-width="2.2"/>
<path class="n" d="M326.8 663.6L326.8 714.4" />
<path class="n" d="M283.6 676.2L293.8 676.2Q296.5 676.2 296.5 678.8000000000001Q296.5 681.4000000000001 293.8 681.4000000000001L283.6 681.4000000000001"/>
<path class="n" d="M283.6 686L293.8 686Q296.5 686 296.5 688.6Q296.5 691.2 293.8 691.2L283.6 691.2"/>
<path class="n" d="M283.6 696.4L293.8 696.4Q296.5 696.4 296.5 699.0Q296.5 701.6 293.8 701.6L283.6 701.6"/>
<rect x="301.2" y="670.8" width="23.2" height="36.5" rx="11.6" fill="#fff" stroke="#111" stroke-width="2.2"/>
<rect x="303.3" y="672.9" width="19" height="32.3" rx="9.5" class="t"/>
<circle cx="312.8" cy="683.2" r="7.6" fill="#fff" stroke="#111" stroke-width="1.6"/>
<path d="M305.5 689.5Q312.8 696 320.1 689.5L320.6 693.4L305 693.4Z" fill="#111"/>
<path class="f" d="M310.8 677.8000000000001L314.8 677.8000000000001L315.2 680.8000000000001L318.2 681.2L318.2 685.2L315.2 685.6L314.8 688.6L310.8 688.6L310.40000000000003 685.6L307.40000000000003 685.2L307.40000000000003 681.2L310.40000000000003 680.8000000000001Z"/>
<circle cx="312.8" cy="683.2" r="3.6" fill="#111"/>
<circle cx="312.8" cy="683.2" r="1.8" fill="#fff"/>
<circle cx="312.8" cy="679.0" r="0.8" fill="#fff"/>
<rect x="305.2" y="693.6" width="15.2" height="11.4" rx="2.6" fill="#fff" stroke="#111" stroke-width="1.8"/>
<circle cx="312.8" cy="699.2" r="2.7" fill="none" stroke="#555" stroke-width="0.8"/>
<path class="n" d="M350.6 666L356.4 666Q359.2 666 359.2 668.8L359.2 678.6Q359.2 681.4 356.4 681.4L350.6 681.4"/>
<path class="t" d="M352.5 666L352.5 681.4M357.4 667.5L357.4 679.9"/>
<path class="n" d="M350.6 696.1L356.4 696.1Q359.2 696.1 359.2 698.9L359.2 708.7Q359.2 711.5 356.4 711.5L350.6 711.5"/>
<path class="t" d="M352.5 696.1L352.5 711.5M357.4 697.6L357.4 710.0"/>
<path class="n" d="M265.9 658.4L281.8 675.0" />
<circle class="w" cx="259.6" cy="651.7" r="9.2"/>
<text class="lb" x="259.6" y="654.9000000000001" font-size="8.8" text-anchor="middle">5</text>
<path class="n" d="M265.9 685.6L281.8 686.8" />
<circle class="w" cx="256.7" cy="684.9" r="9.2"/>
<text class="lb" x="256.7" y="688.1" font-size="8.8" text-anchor="middle">4</text>
<path class="n" d="M262.9 723.7L281.8 702.6" />
<circle class="w" cx="256.7" cy="730.5" r="9.2"/>
<text class="lb" x="256.7" y="733.7" font-size="8.8" text-anchor="middle">3</text>
<path class="n" d="M297.2 734.4L309.5 698.8" />
<circle class="w" cx="294.2" cy="743.1" r="9.2"/>
<text class="lb" x="294.2" y="746.3000000000001" font-size="8.8" text-anchor="middle">2</text>
<path class="n" d="M334.2 735.0L315.4 700.7" />
<circle class="w" cx="338.6" cy="743.1" r="9.2"/>
<text class="lb" x="338.6" y="746.3000000000001" font-size="8.8" text-anchor="middle">1</text>
<path class="n" d="M280.3 813L280.3 781.9Q280.3 775.2 287 775.2L319.9 775.2Q326.6 775.2 326.6 781.9L326.6 813"/>
<circle class="w" cx="303.8" cy="788.9" r="8"/>
<circle class="n" cx="303.8" cy="788.9" r="4.2"/>
<circle class="w" cx="303.8" cy="829.5" r="28.4"/>
<circle class="n" cx="303.8" cy="829.5" r="22.8"/>
<circle class="n" cx="303.8" cy="829.5" r="20.9"/>
<g transform="rotate(-32 303.8 829.5)"><rect class="w" x="291.8" y="824.7" width="24" height="9.6" rx="2.2"/><rect class="n" x="299" y="817.5" width="9.6" height="24" rx="2.2"/><path class="n" d="M299 824.7L308.6 824.7M299 834.3L308.6 834.3"/></g>
<path class="n" d="M306.8 818.2L329.6 816.1L315.4 833"/>
<text class="lb" x="305.7" y="767.3" font-size="8.4" text-anchor="middle">V</text>
<text class="lb" x="269.9" y="817.8" font-size="8.4" text-anchor="middle">IV</text>
<text class="lb" x="337.5" y="817.8" font-size="8.4" text-anchor="middle">I</text>
<text class="lb" x="270.5" y="854.9" font-size="8.4" text-anchor="middle">III</text>
<text class="lb" x="337.5" y="854.9" font-size="8.4" text-anchor="middle">II</text>
<text class="lb" x="249.5" y="838.2" font-size="8.4" text-anchor="middle" transform="rotate(-90 249.5 835.2)">Q2</text>
<text class="lb" x="360.3" y="838.2" font-size="8.4" text-anchor="middle" transform="rotate(90 360.3 835.2)">Q1</text>
<rect class="tbl" x="504.5" y="660" width="168.60000000000002" height="74.6"/>
<path class="tbl" d="M504.5 675.6L673.1 675.6"/>
<path class="tbl" d="M504.5 690.7L673.1 690.7"/>
<path class="tbl" d="M504.5 705.6L673.1 705.6"/>
<path class="tbl" d="M504.5 720.6L673.1 720.6"/>
<path d="M517.7 660L517.7 734.6" stroke="#222" stroke-width="1.5"/>
<text class="lb" x="508.0" y="672" font-size="9.1">1</text>
<text class="lb" x="522.3" y="672" font-size="9.1">TEACH-IN button</text>
<text class="lb" x="508.0" y="686.6" font-size="9.1">2</text>
<text class="lb" x="522.3" y="686.6" font-size="9.1">Mode rotary switch</text>
<text class="lb" x="508.0" y="701.1" font-size="9.1">3</text>
<text class="lb" x="522.3" y="701.1" font-size="9.1">Switch output indicator Q2</text>
<text class="lb" x="508.0" y="715.9" font-size="9.1">4</text>
<text class="lb" x="522.3" y="715.9" font-size="9.1">Switch output indicator Q1</text>
<text class="lb" x="508.0" y="730.3" font-size="9.1">5</text>
<text class="lb" x="522.3" y="730.3" font-size="9.1">Operating indicator</text>
<rect class="tbl" x="504.5" y="782.6" width="168.60000000000002" height="74.8"/>
<path class="tbl" d="M504.5 798.4L673.1 798.4"/>
<path class="tbl" d="M504.5 813.4L673.1 813.4"/>
<path class="tbl" d="M504.5 828.4L673.1 828.4"/>
<path class="tbl" d="M504.5 843.1L673.1 843.1"/>
<path d="M517.7 782.6L517.7 857.4" stroke="#222" stroke-width="1.5"/>
<text class="lb" x="508.0" y="794.8" font-size="9.1">I</text>
<text class="lb" x="522.3" y="794.8" font-size="9.1">Switch output 1 / switch point B</text>
<text class="lb" x="508.0" y="809.7" font-size="9.1">II</text>
<text class="lb" x="522.3" y="809.7" font-size="9.1">Switch output 1 / switch point A</text>
<text class="lb" x="508.0" y="824.1" font-size="9.1">III</text>
<text class="lb" x="522.3" y="824.1" font-size="9.1">Switch output 2 / switch point A</text>
<text class="lb" x="508.0" y="839" font-size="9.1">IV</text>
<text class="lb" x="522.3" y="839" font-size="9.1">Switch output 2 / B</text>
<text class="lb" x="508.0" y="853.1" font-size="9.1">V</text>
<text class="lb" x="522.3" y="853.1" font-size="9.1">Keylock</text>
</svg></div>
<div class="hd hr" style="top:-0.7px;padding-left:7.2px">Dimensions</div>
<div class="hd hr" style="top:363.3px">Electrical connection</div>
<div class="hd hr" style="top:484.3px">Pinout</div>
<div class="hd hr" style="top:605.3px">Indicators/operating means</div>

</body></html>
